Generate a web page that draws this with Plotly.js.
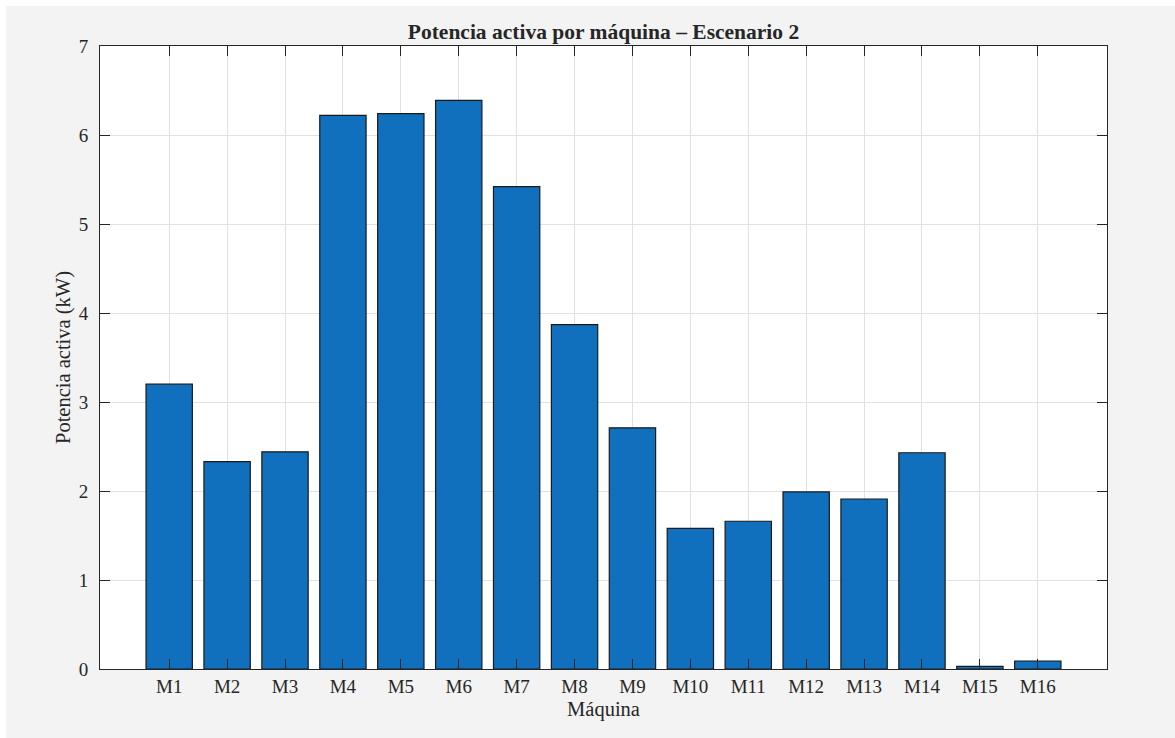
<!DOCTYPE html>
<html>
<head>
<meta charset="utf-8">
<script src="https://cdn.plot.ly/plotly-3.0.1.min.js"></script>
<style>
html,body{margin:0;padding:0;background:#ffffff;width:1175px;height:738px;overflow:hidden;}
#chart{position:absolute;left:6px;top:6px;width:1169px;height:732px;}
</style>
</head>
<body>
<div id="chart"></div>
<script>
const maquinas = ["M1","M2","M3","M4","M5","M6","M7","M8","M9","M10","M11","M12","M13","M14","M15","M16"];
const potencia = [3.20, 2.33, 2.44, 6.22, 6.24, 6.39, 5.42, 3.87, 2.71, 1.58, 1.66, 1.99, 1.91, 2.43, 0.03, 0.09];
const yTicks = [0,1,2,3,4,5,6,7];

const FONT = "'Liberation Serif', 'Times New Roman', serif";
const INK = "#262626";

const trace = {
  type: "bar",
  x: maquinas,
  y: potencia,
  width: 0.8,
  marker: {color: "#1170BE", line: {color: "#1a1a1a", width: 1.2}},
  hoverinfo: "x+y"
};

const layout = {
  width: 1169, height: 732,
  paper_bgcolor: "#f3f3f3",
  plot_bgcolor: "#ffffff",
  margin: {l: 94, r: 68, t: 40, b: 69, pad: 0},
  showlegend: false,
  font: {family: FONT, color: INK, size: 19},
  title: {
    text: "<b>Potencia activa por máquina – Escenario 2</b>",
    font: {family: FONT, size: 21.5, color: INK},
    x: 0.5, xref: "paper", xanchor: "center",
    y: 1 - 25.7/732, yref: "container", yanchor: "middle"
  },
  xaxis: {
    type: "category",
    range: [-1.195, 15 + 1.195],
    showline: true, linecolor: INK, linewidth: 1, mirror: "ticks",
    ticks: "inside", ticklen: 10, tickwidth: 1, tickcolor: INK,
    showgrid: true, gridcolor: "#e1e1e1", gridwidth: 1,
    tickfont: {family: FONT, size: 19, color: INK},
    zeroline: false,
    title: {text: "Máquina", font: {family: FONT, size: 20.5, color: INK}, standoff: 5}
  },
  yaxis: {
    range: [0, 7],
    tickvals: yTicks,
    ticktext: yTicks.map(String),
    showline: true, linecolor: INK, linewidth: 1, mirror: "ticks",
    ticks: "inside", ticklen: 10, tickwidth: 1, tickcolor: INK,
    showgrid: true, gridcolor: "#e1e1e1", gridwidth: 1,
    tickfont: {family: FONT, size: 19, color: INK},
    ticklabelstandoff: 7,
    zeroline: false,
    title: {text: "Potencia activa (kW)", font: {family: FONT, size: 20.5, color: INK}, standoff: 2}
  },
  bargap: 0.2
};

Plotly.newPlot("chart", [trace], layout, {displayModeBar: false, staticPlot: false});
</script>
</body>
</html>
